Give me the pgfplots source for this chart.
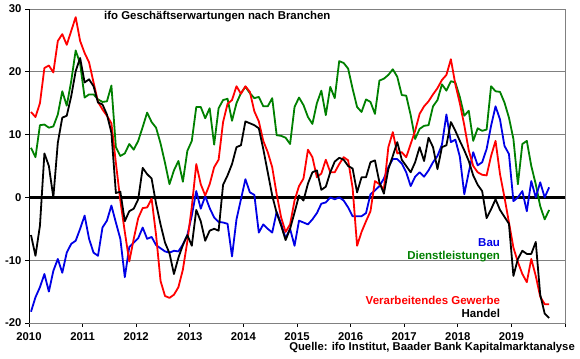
\documentclass[border=0pt]{standalone}
\usepackage{fontspec}
\setmainfont{Liberation Sans}
\usepackage{pgfplots}
\usepackage{pgfplotstable}
\pgfplotsset{compat=1.18}
\definecolor{cred}{RGB}{255,0,0}
\definecolor{cgreen}{RGB}{0,128,0}
\definecolor{cblue}{RGB}{0,0,230}
\definecolor{gridgray}{RGB}{128,128,128}

\pgfplotstableread{
i R K G B
0 13.6 -6.0 7.9 -18.2
1 12.8 -9.3 6.4 -15.9
2 15.0 -4.5 11.5 -14.3
3 20.6 7.0 11.6 -12.2
4 21.0 5.0 11.1 -15.0
5 19.9 0.0 11.3 -11.7
6 24.9 8.7 13.2 -9.8
7 26.0 12.7 16.9 -12.0
8 24.3 13.0 14.6 -8.8
9 26.5 16.1 18.5 -7.4
10 28.7 20.1 23.4 -6.9
11 24.9 22.2 21.3 -5.0
12 23.0 18.3 15.9 -2.9
13 21.5 18.8 16.4 -6.6
14 18.3 17.7 16.4 -8.8
15 15.2 15.1 15.6 -9.3
16 14.0 14.8 15.2 -4.8
17 13.0 13.2 15.3 -3.7
18 11.8 10.3 17.8 -1.3
19 5.5 0.7 8.0 -4.0
20 -0.5 0.9 6.6 -6.6
21 -5.5 -3.8 7.0 -12.7
22 -10.2 -2.2 8.5 -7.9
23 -6.6 -1.8 7.6 -7.2
24 -3.3 -0.3 9.0 -6.5
25 -1.7 4.7 11.2 -4.8
26 -1.6 3.7 13.5 -6.6
27 -0.2 3.0 12.0 -6.3
28 -6.0 -1.0 11.1 -7.6
29 -13.3 -4.3 8.6 -8.1
30 -15.7 -7.2 5.5 -8.6
31 -16.0 -8.9 2.1 -8.8
32 -15.5 -12.2 4.3 -8.5
33 -14.3 -9.6 5.8 -8.6
34 -11.5 -7.6 2.5 -7.5
35 -7.0 -6.0 7.4 -6.0
36 -1.5 -7.7 9.0 -2.9
37 5.3 -2.0 14.4 1.0
38 2.1 -3.8 14.4 -1.8
39 0.3 -6.9 12.6 0.2
40 2.1 -5.3 14.2 -1.7
41 4.8 -5.0 8.4 -3.2
42 6.0 -5.3 14.2 -3.9
43 12.0 2.0 15.5 -4.0
44 14.9 3.5 15.7 -4.2
45 15.5 5.3 12.2 -9.4
46 17.7 8.0 15.0 -3.5
47 16.5 8.3 16.6 -0.3
48 17.7 12.1 17.6 2.9
49 16.8 11.8 16.6 0.8
50 13.7 11.5 15.8 0.4
51 12.1 11.0 16.0 -5.6
52 9.0 7.7 14.5 -4.3
53 7.2 4.0 14.5 -5.0
54 4.8 0.3 15.8 -5.6
55 0.5 -2.5 9.9 -2.3
56 -3.2 -4.5 9.8 -4.2
57 -5.5 -6.8 9.5 -6.5
58 -4.3 -5.0 8.5 -5.0
59 -0.5 -2.4 14.4 -7.7
60 1.8 0.3 15.9 -3.7
61 3.0 -0.5 14.7 -4.0
62 7.6 2.2 12.8 -4.3
63 6.4 4.0 11.7 -3.5
64 3.2 4.3 15.0 -2.5
65 3.8 1.2 17.0 -1.0
66 6.0 1.7 13.1 -0.8
67 4.0 4.0 17.6 0.0
68 4.0 5.7 15.8 -0.3
69 5.3 6.3 21.7 0.0
70 6.4 6.0 21.4 -0.5
71 5.9 5.0 20.5 -1.6
72 1.5 4.6 17.3 -3.0
73 -7.7 0.8 14.4 -3.0
74 -5.5 3.2 13.6 -3.0
75 -3.8 3.2 15.6 -2.5
76 -2.2 5.6 15.2 0.5
77 2.6 5.9 13.3 1.1
78 2.1 2.4 18.6 1.8
79 1.3 0.6 18.9 3.0
80 8.0 4.5 19.5 4.8
81 10.4 6.6 20.4 6.1
82 7.0 8.8 19.2 6.1
83 7.2 6.0 16.3 5.4
84 6.4 5.0 16.2 4.0
85 8.5 4.0 13.1 1.8
86 10.6 5.6 9.3 3.3
87 13.3 8.0 10.9 4.0
88 14.5 5.8 11.4 3.3
89 15.3 9.5 11.5 4.3
90 16.4 8.0 14.5 5.6
91 17.4 4.5 15.5 6.6
92 18.7 8.0 18.0 8.4
93 19.5 8.3 17.0 13.2
94 22.0 12.0 18.5 8.8
95 18.0 10.6 18.3 9.2
96 15.0 9.0 16.0 6.5
97 11.5 7.5 13.0 0.5
98 7.5 5.8 13.8 4.0
99 5.0 3.5 9.0 7.2
100 4.0 2.0 11.0 5.1
101 3.6 1.0 10.6 5.6
102 3.5 -3.3 10.8 7.7
103 6.6 -1.9 17.7 11.4
104 9.0 -0.3 16.9 14.5
105 3.7 -2.0 16.8 12.4
106 0.0 -3.1 15.1 8.2
107 -4.0 -4.2 12.7 6.9
108 -8.0 -12.5 9.3 -0.6
109 -10.3 -9.8 2.1 0.0
110 -12.2 -8.5 8.5 1.0
111 -13.5 -9.0 9.0 -2.2
112 -9.8 -9.0 5.0 2.6
113 -12.5 -7.1 2.1 0.0
114 -15.8 -15.5 -1.4 2.4
115 -17.0 -18.5 -3.5 0.0
116 -17.0 -19.2 -2.0 1.6
}\data

\begin{document}
\begin{tikzpicture}
\begin{axis}[
  scale only axis, width=536pt, height=314pt,
  xmin=0, xmax=120, ymin=-20, ymax=30,
  xtick={0,12,24,36,48,60,72,84,96,108,120},
  xticklabels={2010,2011,2012,2013,2014,2015,2016,2017,2018,2019,{}},
  ytick={-20,-10,0,10,20,30},
  yticklabels={-20,-10,0,10,20,30},
  xtick pos=lower, ytick pos=left,
  tick align=outside, major tick length=4pt,
  tick style={black, line width=0.8pt},
  axis line style={draw=gridgray, line width=0.8pt},
  ymajorgrids, grid style={gridgray, line width=0.7pt},
  ticklabel style={font=\bfseries\fontsize{11.3}{13}\selectfont},
  xticklabel style={yshift=-2pt},
  every axis plot/.append style={line width=1.8pt, line join=round, mark=none},
]
\draw[black, line width=0.9pt] (rel axis cs:0,0) -- (rel axis cs:0,1);
\draw[black, line width=0.9pt] (rel axis cs:0,0) -- (rel axis cs:1,0);
\draw[black, line width=2.4pt] (axis cs:0,0) -- (axis cs:120,0);
\addplot[cgreen] table[x expr=\coordindex+0.45, y=G] {\data};
\addplot[cblue] table[x expr=\coordindex+0.45, y=B] {\data};
\addplot[cred] table[x expr=\coordindex+0.45, y=R] {\data};
\addplot[black] table[x expr=\coordindex+0.45, y=K] {\data};
\node[anchor=west, inner sep=0, font=\bfseries\fontsize{11.4}{13}\selectfont] at (rel axis cs:0.14,0.975) {ifo Geschäftserwartungen nach Branchen};
\node[anchor=east, inner sep=0, text=cblue, font=\bfseries\fontsize{11.5}{13}\selectfont] at (rel axis cs:0.879,0.255) {Bau};
\node[anchor=east, inner sep=0, text=cgreen, font=\bfseries\fontsize{11.5}{13}\selectfont] at (rel axis cs:0.879,0.213) {Dienstleistungen};
\node[anchor=east, inner sep=0, text=cred, font=\bfseries\fontsize{11.5}{13}\selectfont] at (rel axis cs:0.879,0.073) {Verarbeitendes Gewerbe};
\node[anchor=east, inner sep=0, text=black, font=\bfseries\fontsize{11.5}{13}\selectfont] at (rel axis cs:0.879,0.032) {Handel};
\end{axis}
\node[anchor=east, inner sep=0, font=\bfseries\fontsize{11.3}{13}\selectfont] at ([xshift=10pt,yshift=-25pt]current axis.south east) {Quelle: ifo Institut, Baader Bank Kapitalmarktanalyse};
\path ([xshift=-29pt,yshift=-36pt]current axis.south west) rectangle ([xshift=15pt,yshift=9pt]current axis.north east);
\end{tikzpicture}
\end{document}
